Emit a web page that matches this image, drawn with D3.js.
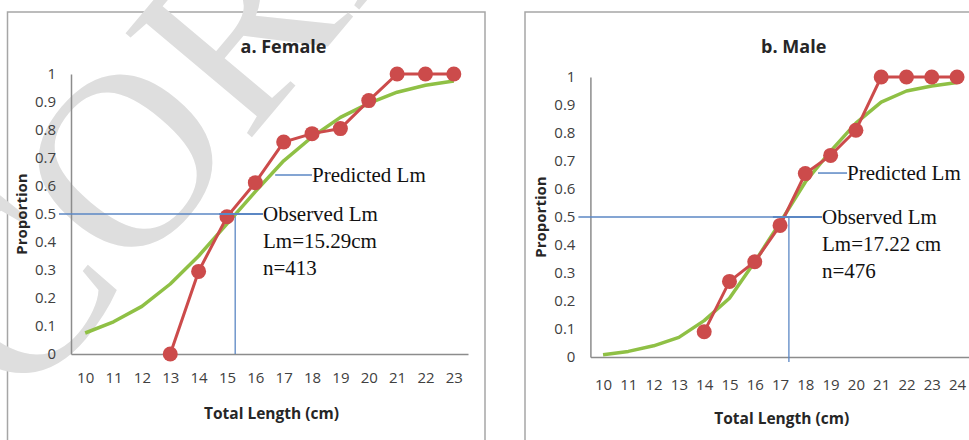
<!DOCTYPE html>
<html>
<head>
<meta charset="utf-8">
<script src="https://cdn.jsdelivr.net/npm/d3@7"></script>
<style>
  body { margin: 0; background: #fff; }
  .tick text { font-family: "Open Sans", sans-serif; font-size: 15px; fill: #404040; }
  .ann { font-family: "Liberation Serif", "Times New Roman", serif; font-size: 21px; fill: #111; }
</style>
</head>
<body>
<svg width="969" height="440"></svg>
<script>
// ---- data ----
var femaleLengths = [10, 11, 12, 13, 14, 15, 16, 17, 18, 19, 20, 21, 22, 23];
var femaleObsLengths = [13, 14, 15, 16, 17, 18, 19, 20, 21, 22, 23];
var femaleObserved = [0, 0.295, 0.49, 0.612, 0.757, 0.787, 0.805, 0.905, 1, 1, 1];
var femalePredicted = [0.075, 0.115, 0.17, 0.25, 0.35, 0.465, 0.58, 0.69, 0.775, 0.845, 0.895, 0.935, 0.96, 0.975];

var maleLengths = [10, 11, 12, 13, 14, 15, 16, 17, 18, 19, 20, 21, 22, 23, 24];
var maleObsLengths = [14, 15, 16, 17, 18, 19, 20, 21, 22, 23, 24];
var maleObserved = [0.09, 0.27, 0.34, 0.47, 0.655, 0.72, 0.81, 1, 1, 1, 1];
var malePredicted = [0.008, 0.02, 0.04, 0.07, 0.13, 0.21, 0.34, 0.48, 0.625, 0.735, 0.835, 0.91, 0.95, 0.968, 0.98];

var yTicks = [0, 0.1, 0.2, 0.3, 0.4, 0.5, 0.6, 0.7, 0.8, 0.9, 1];

var panels = [
  {title: "a. Female", lengths: femaleLengths, obsX: femaleObsLengths, obs: femaleObserved, pred: femalePredicted,
   lineX: 15.29, lmText: "Lm=15.29cm", nText: "n=413",
   box: [7.5, 12, 485, 460], plot: [71, 74, 468, 354], drop: 0,
   predLeader: [16.7, 18.0, 0.639], obsTextX: 16.27, titleY: 53, xLabY: 383, xTitleY: 419},
  {title: "b. Male", lengths: maleLengths, obsX: maleObsLengths, obs: maleObserved, pred: malePredicted,
   lineX: 17.35, lmText: "Lm=17.22 cm", nText: "n=476",
   box: [525, 12, 1000, 460], plot: [590.4, 77, 969.7, 357], drop: 5,
   predLeader: [18.5, 19.65, 0.657], obsTextX: 18.66, titleY: 53, xLabY: 390, xTitleY: 424}
];

var red = "#cc4b4b";
var green = "#8fc045";
var blue = "#5b87c4";

var svg = d3.select("svg");

// panel frames
panels.forEach(function(p) {
  svg.append("rect")
    .attr("x", p.box[0]).attr("y", p.box[1])
    .attr("width", p.box[2] - p.box[0]).attr("height", p.box[3] - p.box[1])
    .attr("fill", "#fff").attr("stroke", "#a6a6a6").attr("stroke-width", 1.5);
});

// watermark
svg.append("text")
  .attr("transform", "translate(23,410) rotate(-50)")
  .attr("font-family", "Liberation Serif, serif")
  .attr("font-size", 250)
  .attr("fill", "#dedede")
  .text("CORRECTED");

panels.forEach(function(p) {
  var g = svg.append("g");
  var x = d3.scaleLinear().domain([p.lengths[0] - 0.5, p.lengths[p.lengths.length - 1] + 0.5]).range([p.plot[0], p.plot[2]]);
  var y = d3.scaleLinear().domain([0, 1]).range([p.plot[3], p.plot[1]]);

  // axes
  var xa = g.append("g")
    .attr("transform", "translate(0," + p.plot[3] + ")")
    .call(d3.axisBottom(x).tickValues(p.lengths).tickSize(0).tickPadding(p.xLabY - p.plot[3] - 11).tickFormat(d3.format("d")));
  xa.select(".domain").attr("stroke", "#8c8c8c").attr("stroke-width", 1.5);

  var ya = g.append("g")
    .attr("transform", "translate(" + p.plot[0] + ",0)")
    .call(d3.axisLeft(y).tickValues(yTicks).tickSize(0).tickPadding(15).tickFormat(function(d) { return d === 0 || d === 1 ? d : d3.format(".1f")(d); }));
  ya.select(".domain").attr("stroke", "#8c8c8c").attr("stroke-width", 1.5);

  // titles
  g.append("text")
    .attr("x", (p.plot[0] + Math.min(p.plot[2], 969)) / 2 + 14).attr("y", p.titleY)
    .attr("text-anchor", "middle")
    .attr("font-family", "Open Sans, sans-serif").attr("font-weight", "bold").attr("font-size", 18)
    .attr("fill", "#262626")
    .text(p.title);

  g.append("text")
    .attr("x", (p.plot[0] + Math.min(p.plot[2], 969)) / 2 + 2).attr("y", p.xTitleY)
    .attr("text-anchor", "middle")
    .attr("font-family", "Open Sans, sans-serif").attr("font-weight", "bold").attr("font-size", 15.5)
    .attr("fill", "#262626")
    .text("Total Length (cm)");

  g.append("text")
    .attr("transform", "translate(" + (p.plot[0] - 44) + "," + y(0.5) + ") rotate(-90)")
    .attr("text-anchor", "middle")
    .attr("font-family", "Open Sans, sans-serif").attr("font-weight", "bold").attr("font-size", 15)
    .attr("fill", "#262626")
    .text("Proportion");

  // reference lines
  g.append("line")
    .attr("x1", p.plot[0] - 12).attr("x2", x(p.lineX))
    .attr("y1", y(0.5)).attr("y2", y(0.5))
    .attr("stroke", blue).attr("stroke-width", 1.3);
  g.append("line")
    .attr("x1", x(p.lineX)).attr("x2", x(p.lineX))
    .attr("y1", y(0.5)).attr("y2", y(0) + p.drop)
    .attr("stroke", blue).attr("stroke-width", 1.3);

  // predicted curve
  g.append("path")
    .datum(p.pred)
    .attr("fill", "none").attr("stroke", green).attr("stroke-width", 3.5)
    .attr("stroke-linejoin", "round")
    .attr("d", d3.line().x(function(d, i) { return x(p.lengths[i]); }).y(function(d) { return y(d); }));

  // observed
  g.append("path")
    .datum(p.obs)
    .attr("fill", "none").attr("stroke", red).attr("stroke-width", 3)
    .attr("d", d3.line().x(function(d, i) { return x(p.obsX[i]); }).y(function(d) { return y(d); }));

  g.selectAll(".dot")
    .data(p.obs)
    .enter()
    .append("circle")
    .attr("class", "dot")
    .attr("cx", function(d, i) { return x(p.obsX[i]); })
    .attr("cy", function(d) { return y(d); })
    .attr("r", 7.5)
    .attr("fill", red);

  // annotations
  var pl = p.predLeader;
  g.append("line")
    .attr("x1", x(pl[0])).attr("x2", x(pl[1]))
    .attr("y1", y(pl[2])).attr("y2", y(pl[2]))
    .attr("stroke", blue).attr("stroke-width", 1.5);
  g.append("text").attr("class", "ann")
    .attr("x", x(pl[1])).attr("y", y(pl[2]) + 7)
    .text("Predicted Lm");

  g.append("line")
    .attr("x1", x(p.lineX) - 16).attr("x2", x(p.obsTextX))
    .attr("y1", y(0.5)).attr("y2", y(0.5))
    .attr("stroke", blue).attr("stroke-width", 1.8);
  var lines = ["Observed Lm", p.lmText, p.nText];
  g.selectAll(".obs")
    .data(lines)
    .enter()
    .append("text").attr("class", "ann")
    .attr("x", x(p.obsTextX))
    .attr("y", function(d, i) { return y(0.5) + 7 + i * 27; })
    .text(function(d) { return d; });
});
</script>
</body>
</html>
